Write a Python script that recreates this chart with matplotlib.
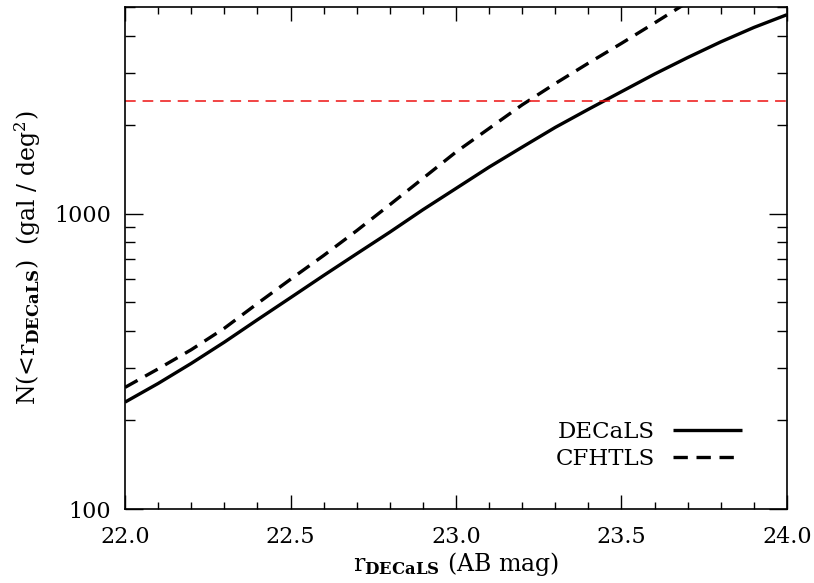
import numpy as np
import matplotlib
matplotlib.use("Agg")
import matplotlib.pyplot as plt
from matplotlib.ticker import FixedLocator, NullFormatter, FixedFormatter

plt.rcParams['font.family'] = ['DejaVu Serif']
plt.rcParams['mathtext.fontset'] = 'dejavuserif'

# Data
mag_decals = [22.0, 22.1, 22.2, 22.3, 22.4, 22.5, 22.6, 22.7, 22.8, 22.9, 23.0,
              23.1, 23.2, 23.3, 23.4, 23.5, 23.6, 23.7, 23.8, 23.9, 24.0]
n_decals = [230, 266, 311, 367, 437, 519, 617, 731, 865, 1030, 1216,
            1436, 1678, 1957, 2253, 2585, 2965, 3372, 3810, 4263, 4709]
mag_cfhtls = [22.0, 22.1, 22.2, 22.3, 22.4, 22.5, 22.6, 22.7, 22.8, 22.9, 23.0,
              23.1, 23.2, 23.3, 23.4, 23.5, 23.6, 23.7]
n_cfhtls = [258, 298, 346, 409, 496, 599, 721, 875, 1071, 1315, 1615,
            1941, 2333, 2754, 3228, 3767, 4416, 5190]
n_ref = 2400
x_ticks = [22.0, 22.5, 23.0, 23.5, 24.0]
x_ticklabels = ['22.0', '22.5', '23.0', '23.5', '24.0']
y_ticks = [100, 1000]
y_ticklabels = ['100', '1000']

fig = plt.figure(figsize=(8.14, 5.83), dpi=100)
ax = fig.add_axes([0.1536, 0.1269, 0.8132, 0.8611])

ax.plot(mag_decals, n_decals, color='black', lw=2.4, solid_capstyle='butt',
        solid_joinstyle='round', label='DECaLS')
ax.plot(mag_cfhtls, n_cfhtls, color='black', lw=2.4, dashes=(4.3, 2.6), label='CFHTLS')
ax.axhline(n_ref, color='#ee1111', lw=1.1, dashes=(7, 4.5))

ax.set_yscale('log')
ax.set_xlim(22.0, 24.0)
ax.set_ylim(100, 5000)

ax.xaxis.set_major_locator(FixedLocator(x_ticks))
ax.xaxis.set_major_formatter(FixedFormatter(x_ticklabels))
ax.xaxis.set_minor_locator(FixedLocator(np.arange(22.0, 24.001, 0.1)))
ax.yaxis.set_major_locator(FixedLocator(y_ticks))
ax.yaxis.set_major_formatter(FixedFormatter(y_ticklabels))
ax.yaxis.set_minor_locator(FixedLocator([200, 300, 400, 500, 600, 700, 800, 900,
                                         2000, 3000, 4000, 5000]))
ax.yaxis.set_minor_formatter(NullFormatter())

ax.tick_params(which='both', direction='in', top=True, right=True, labelsize=16, width=1.0,
               colors='black')
ax.tick_params(axis='y', which='major', length=13, pad=10)
ax.tick_params(axis='y', which='minor', length=7)
ax.tick_params(axis='x', which='major', length=10, pad=12)
ax.tick_params(axis='x', which='minor', length=5)
for s in ax.spines.values():
    s.set_linewidth(1.2)

ax.set_xlabel(r'r$_{\mathbf{DECaLS}}$ (AB mag)', fontsize=17, labelpad=2)
ax.set_ylabel(r'N(<r$_{\mathbf{DECaLS}}$)  (gal / deg$^2$)', fontsize=17, labelpad=8)

leg = ax.legend(loc='lower right', bbox_to_anchor=(0.963, 0.036), frameon=False,
                markerfirst=False, fontsize=16.5, handlelength=3.0, handletextpad=0.8,
                labelspacing=0.25)

fig.savefig('out.png', dpi=100)
